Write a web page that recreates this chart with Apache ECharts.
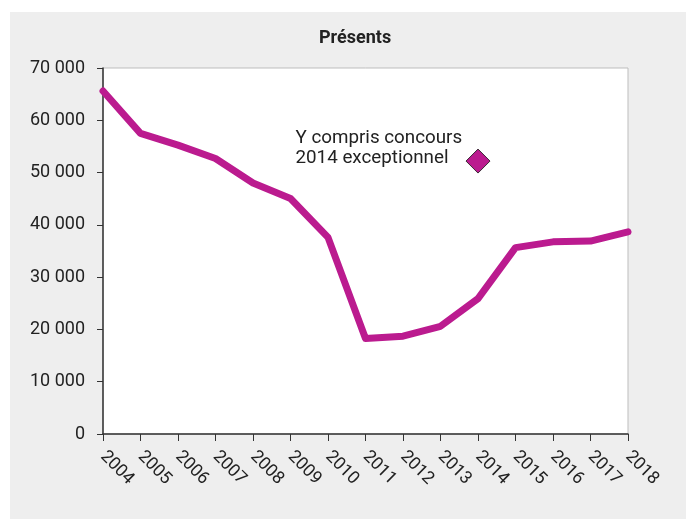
<!DOCTYPE html>
<html>
<head>
<meta charset="utf-8">
<script src="https://cdn.jsdelivr.net/npm/echarts@6/dist/echarts.min.js"></script>
<style>
  html, body { margin: 0; padding: 0; background: #ffffff; }
  #chart { position: absolute; left: 10px; top: 12px; width: 676px; height: 507px; background: #eeeeee; }
</style>
</head>
<body>
<div id="chart"></div>
<script>
// Données
var annees = ['2004', '2005', '2006', '2007', '2008', '2009', '2010', '2011',
              '2012', '2013', '2014', '2015', '2016', '2017', '2018'];
var presents = [65600, 57500, 55250, 52700, 48000, 45050, 37600, 18250,
                18700, 20600, 25900, 35650, 36750, 36900, 38650];
// point isolé : concours exceptionnel 2014 compris
var concours2014 = [['2014', 52200]];
var graduationsY = [0, 10000, 20000, 30000, 40000, 50000, 60000, 70000];

document.addEventListener('DOMContentLoaded', function () {
  var chart = echarts.init(document.getElementById('chart'));

  var couleur = '#bb1b8f';
  var police = 'Roboto, "Noto Sans", sans-serif';

  function milliers(v) {
    return String(v).replace(/\B(?=(\d{3})+(?!\d))/g, ' ');
  }

  var option = {
    animation: false,
    title: {
      text: 'Présents',
      left: 304,
      top: 12,
      textStyle: { fontFamily: police, fontSize: 18, fontWeight: 'bold', color: '#222' }
    },
    grid: {
      left: 93,
      right: 58,
      top: 56,
      bottom: 85,
      show: true,
      backgroundColor: '#ffffff',
      borderColor: '#bdbdbd',
      borderWidth: 1
    },
    xAxis: {
      type: 'category',
      data: annees,
      boundaryGap: false,
      axisLine: { lineStyle: { color: '#333', width: 1.5 } },
      axisTick: { show: true, length: 7, lineStyle: { color: '#333' } },
      axisLabel: {
        rotate: -45,
        margin: 20,
        interval: 0,
        fontFamily: police,
        fontSize: 17.5,
        color: '#222'
      },
      splitLine: { show: false }
    },
    yAxis: {
      type: 'value',
      min: graduationsY[0],
      max: graduationsY[graduationsY.length - 1],
      interval: 10000,
      axisLine: { show: true, lineStyle: { color: '#333', width: 1.5 } },
      axisTick: { show: true, length: 6, lineStyle: { color: '#333' } },
      axisLabel: {
        margin: 18,
        fontFamily: police,
        fontSize: 18,
        color: '#222',
        formatter: milliers
      },
      splitLine: { show: false }
    },
    series: [
      {
        name: 'Présents',
        type: 'line',
        data: presents,
        showSymbol: false,
        lineStyle: { color: couleur, width: 7, cap: 'round', join: 'round' },
        itemStyle: { color: couleur }
      },
      {
        name: 'Concours 2014',
        type: 'scatter',
        data: concours2014,
        symbol: 'diamond',
        symbolSize: [24, 24],
        itemStyle: { color: couleur, opacity: 1, borderColor: '#3a2a35', borderWidth: 1 },
        label: {
          show: true,
          formatter: 'Y compris concours\n2014 exceptionnel',
          position: [-170, -20],
          align: 'left',
          verticalAlign: 'top',
          fontFamily: police,
          fontSize: 18.8,
          lineHeight: 20,
          color: '#222'
        }
      }
    ]
  };

  chart.setOption(option);
});
</script>
</body>
</html>
